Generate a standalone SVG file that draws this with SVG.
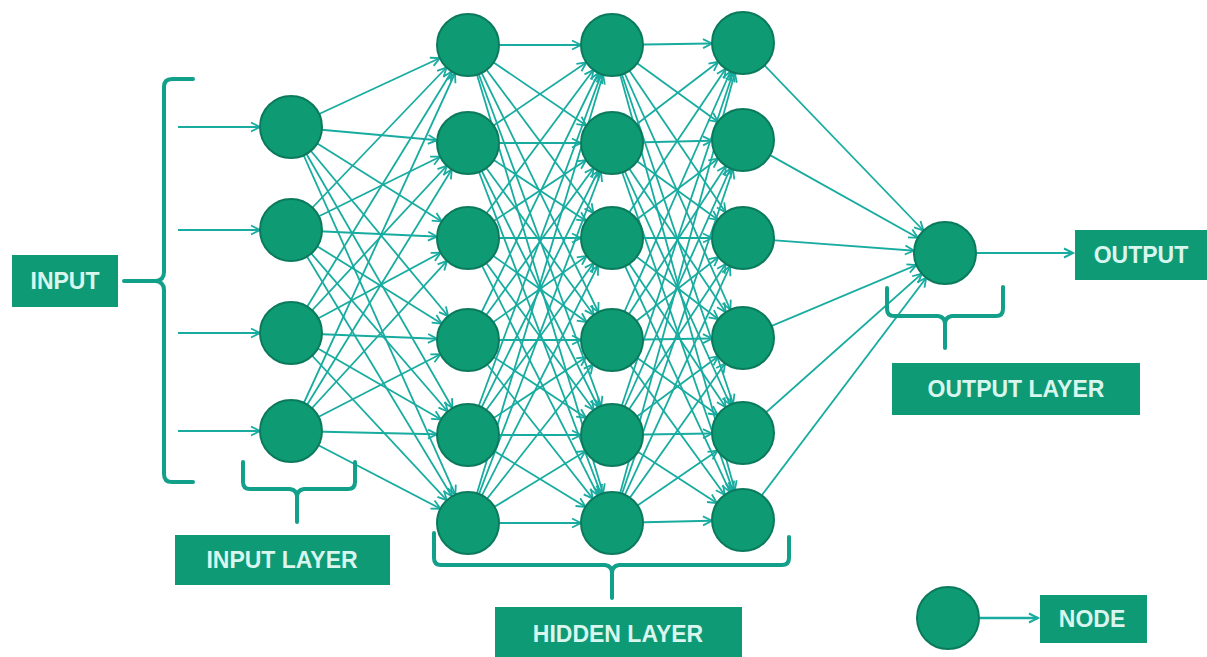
<svg xmlns="http://www.w3.org/2000/svg" width="1207" height="657" viewBox="0 0 1207 657">
<defs>
<style>
.n{fill:#0E9B73;stroke:#0B7A5C;stroke-width:2}
.bx{fill:#0F9A76}
.t{font-family:"Liberation Sans",Arial,sans-serif;font-weight:bold;font-size:23px;fill:#D8F6EE;text-anchor:middle}
.br{fill:none;stroke:#13A08A;stroke-width:4;stroke-linecap:round;stroke-linejoin:round}
.e line{stroke:#18ACA0;stroke-width:1.8}
</style>
<marker id="ah" markerUnits="userSpaceOnUse" viewBox="-12 -6 50 12" markerWidth="50" markerHeight="12" refX="31" refY="0" orient="auto" style="overflow:visible">
<path d="M-9,-4.5 L0,0 L-9,4.5" fill="none" stroke="#18ACA0" stroke-width="1.8"/>
</marker>
<marker id="tip" markerUnits="userSpaceOnUse" viewBox="-12 -6 14 12" markerWidth="14" markerHeight="12" refX="0" refY="0" orient="auto" style="overflow:visible">
<path d="M-9,-4.5 L0,0 L-9,4.5" fill="none" stroke="#18ACA0" stroke-width="2"/>
</marker>
</defs>
<rect width="1207" height="657" fill="#FFFFFF"/>
<g id="connectors" class="e" marker-end="url(#ah)">
<line x1="178" y1="127" x2="291" y2="127"/>
<line x1="178" y1="230" x2="291" y2="230"/>
<line x1="178" y1="333" x2="291" y2="333"/>
<line x1="178" y1="431" x2="291" y2="431"/>
<line x1="291" y1="127" x2="468" y2="45"/><line x1="291" y1="127" x2="468" y2="143"/><line x1="291" y1="127" x2="468" y2="238"/><line x1="291" y1="127" x2="468" y2="340"/><line x1="291" y1="127" x2="468" y2="435"/><line x1="291" y1="127" x2="468" y2="523"/>
<line x1="291" y1="230" x2="468" y2="45"/><line x1="291" y1="230" x2="468" y2="143"/><line x1="291" y1="230" x2="468" y2="238"/><line x1="291" y1="230" x2="468" y2="340"/><line x1="291" y1="230" x2="468" y2="435"/><line x1="291" y1="230" x2="468" y2="523"/>
<line x1="291" y1="333" x2="468" y2="45"/><line x1="291" y1="333" x2="468" y2="143"/><line x1="291" y1="333" x2="468" y2="238"/><line x1="291" y1="333" x2="468" y2="340"/><line x1="291" y1="333" x2="468" y2="435"/><line x1="291" y1="333" x2="468" y2="523"/>
<line x1="291" y1="431" x2="468" y2="45"/><line x1="291" y1="431" x2="468" y2="143"/><line x1="291" y1="431" x2="468" y2="238"/><line x1="291" y1="431" x2="468" y2="340"/><line x1="291" y1="431" x2="468" y2="435"/><line x1="291" y1="431" x2="468" y2="523"/>
<line x1="468" y1="45" x2="612" y2="45"/><line x1="468" y1="45" x2="612" y2="143"/><line x1="468" y1="45" x2="612" y2="238"/><line x1="468" y1="45" x2="612" y2="340"/><line x1="468" y1="45" x2="612" y2="435"/><line x1="468" y1="45" x2="612" y2="523"/>
<line x1="468" y1="143" x2="612" y2="45"/><line x1="468" y1="143" x2="612" y2="143"/><line x1="468" y1="143" x2="612" y2="238"/><line x1="468" y1="143" x2="612" y2="340"/><line x1="468" y1="143" x2="612" y2="435"/><line x1="468" y1="143" x2="612" y2="523"/>
<line x1="468" y1="238" x2="612" y2="45"/><line x1="468" y1="238" x2="612" y2="143"/><line x1="468" y1="238" x2="612" y2="238"/><line x1="468" y1="238" x2="612" y2="340"/><line x1="468" y1="238" x2="612" y2="435"/><line x1="468" y1="238" x2="612" y2="523"/>
<line x1="468" y1="340" x2="612" y2="45"/><line x1="468" y1="340" x2="612" y2="143"/><line x1="468" y1="340" x2="612" y2="238"/><line x1="468" y1="340" x2="612" y2="340"/><line x1="468" y1="340" x2="612" y2="435"/><line x1="468" y1="340" x2="612" y2="523"/>
<line x1="468" y1="435" x2="612" y2="45"/><line x1="468" y1="435" x2="612" y2="143"/><line x1="468" y1="435" x2="612" y2="238"/><line x1="468" y1="435" x2="612" y2="340"/><line x1="468" y1="435" x2="612" y2="435"/><line x1="468" y1="435" x2="612" y2="523"/>
<line x1="468" y1="523" x2="612" y2="45"/><line x1="468" y1="523" x2="612" y2="143"/><line x1="468" y1="523" x2="612" y2="238"/><line x1="468" y1="523" x2="612" y2="340"/><line x1="468" y1="523" x2="612" y2="435"/><line x1="468" y1="523" x2="612" y2="523"/>
<line x1="612" y1="45" x2="743" y2="43"/><line x1="612" y1="45" x2="743" y2="140"/><line x1="612" y1="45" x2="743" y2="238"/><line x1="612" y1="45" x2="743" y2="338"/><line x1="612" y1="45" x2="743" y2="433"/><line x1="612" y1="45" x2="743" y2="520"/>
<line x1="612" y1="143" x2="743" y2="43"/><line x1="612" y1="143" x2="743" y2="140"/><line x1="612" y1="143" x2="743" y2="238"/><line x1="612" y1="143" x2="743" y2="338"/><line x1="612" y1="143" x2="743" y2="433"/><line x1="612" y1="143" x2="743" y2="520"/>
<line x1="612" y1="238" x2="743" y2="43"/><line x1="612" y1="238" x2="743" y2="140"/><line x1="612" y1="238" x2="743" y2="238"/><line x1="612" y1="238" x2="743" y2="338"/><line x1="612" y1="238" x2="743" y2="433"/><line x1="612" y1="238" x2="743" y2="520"/>
<line x1="612" y1="340" x2="743" y2="43"/><line x1="612" y1="340" x2="743" y2="140"/><line x1="612" y1="340" x2="743" y2="238"/><line x1="612" y1="340" x2="743" y2="338"/><line x1="612" y1="340" x2="743" y2="433"/><line x1="612" y1="340" x2="743" y2="520"/>
<line x1="612" y1="435" x2="743" y2="43"/><line x1="612" y1="435" x2="743" y2="140"/><line x1="612" y1="435" x2="743" y2="238"/><line x1="612" y1="435" x2="743" y2="338"/><line x1="612" y1="435" x2="743" y2="433"/><line x1="612" y1="435" x2="743" y2="520"/>
<line x1="612" y1="523" x2="743" y2="43"/><line x1="612" y1="523" x2="743" y2="140"/><line x1="612" y1="523" x2="743" y2="238"/><line x1="612" y1="523" x2="743" y2="338"/><line x1="612" y1="523" x2="743" y2="433"/><line x1="612" y1="523" x2="743" y2="520"/>
<line x1="743" y1="43" x2="945" y2="253"/><line x1="743" y1="140" x2="945" y2="253"/><line x1="743" y1="238" x2="945" y2="253"/><line x1="743" y1="338" x2="945" y2="253"/><line x1="743" y1="433" x2="945" y2="253"/><line x1="743" y1="520" x2="945" y2="253"/>
<line x1="945" y1="253" x2="1073" y2="253" marker-end="url(#tip)"/>
<line x1="948" y1="618" x2="1038" y2="618" marker-end="url(#tip)" style="stroke-width:2.4"/>
</g>
<g id="brackets">
<path class="br" d="M193,79 L172,79 Q164,79 164,87 L164,272 Q164,280 156,281 L124,281 M156,281 Q164,282 164,290 L164,474 Q164,482 172,482 L193,482"/>
<path class="br" d="M243,462 L243,482 Q243,489 250,489 L290,489 Q297,490 297,497 L297,522 M297,497 Q297,490 304,489 L348,489 Q355,489 355,482 L355,462"/>
<path class="br" d="M434,533 L434,558 Q434,565 441,565 L605,565 Q612,566 612,573 L612,598 M612,573 Q612,566 619,565 L782,565 Q789,565 789,558 L789,537"/>
<path class="br" d="M887,288 L887,309 Q887,316 894,316 L938,316 Q945,317 945,324 L945,348 M945,324 Q945,317 952,316 L996,316 Q1003,316 1003,309 L1003,287"/>
</g>
<g id="input-layer">
<circle class="n" cx="291" cy="127" r="31"/>
<circle class="n" cx="291" cy="230" r="31"/>
<circle class="n" cx="291" cy="333" r="31"/>
<circle class="n" cx="291" cy="431" r="31"/>
</g>
<g id="hidden-layer-1">
<circle class="n" cx="468" cy="45" r="31"/>
<circle class="n" cx="468" cy="143" r="31"/>
<circle class="n" cx="468" cy="238" r="31"/>
<circle class="n" cx="468" cy="340" r="31"/>
<circle class="n" cx="468" cy="435" r="31"/>
<circle class="n" cx="468" cy="523" r="31"/>
</g>
<g id="hidden-layer-2">
<circle class="n" cx="612" cy="45" r="31"/>
<circle class="n" cx="612" cy="143" r="31"/>
<circle class="n" cx="612" cy="238" r="31"/>
<circle class="n" cx="612" cy="340" r="31"/>
<circle class="n" cx="612" cy="435" r="31"/>
<circle class="n" cx="612" cy="523" r="31"/>
</g>
<g id="hidden-layer-3">
<circle class="n" cx="743" cy="43" r="31"/>
<circle class="n" cx="743" cy="140" r="31"/>
<circle class="n" cx="743" cy="238" r="31"/>
<circle class="n" cx="743" cy="338" r="31"/>
<circle class="n" cx="743" cy="433" r="31"/>
<circle class="n" cx="743" cy="520" r="31"/>
</g>
<g id="output-node">
<circle class="n" cx="945" cy="253" r="31"/>
</g>
<g id="legend-node">
<circle class="n" cx="948" cy="618" r="31"/>
</g>
<g id="label-input">
<rect class="bx" x="12" y="255" width="106" height="52"/>
<text class="t" x="65" y="289">INPUT</text>
</g>
<g id="label-input-layer">
<rect class="bx" x="175" y="535" width="215" height="50"/>
<text class="t" x="282" y="568">INPUT LAYER</text>
</g>
<g id="label-hidden-layer">
<rect class="bx" x="495" y="607" width="247" height="50"/>
<text class="t" x="618" y="642">HIDDEN LAYER</text>
</g>
<g id="label-output">
<rect class="bx" x="1075" y="230" width="132" height="50"/>
<text class="t" x="1141" y="263">OUTPUT</text>
</g>
<g id="label-output-layer">
<rect class="bx" x="892" y="363" width="248" height="52"/>
<text class="t" x="1016" y="397">OUTPUT LAYER</text>
</g>
<g id="label-node">
<rect class="bx" x="1040" y="595" width="107" height="48"/>
<text class="t" x="1092" y="627">NODE</text>
</g>
</svg>
